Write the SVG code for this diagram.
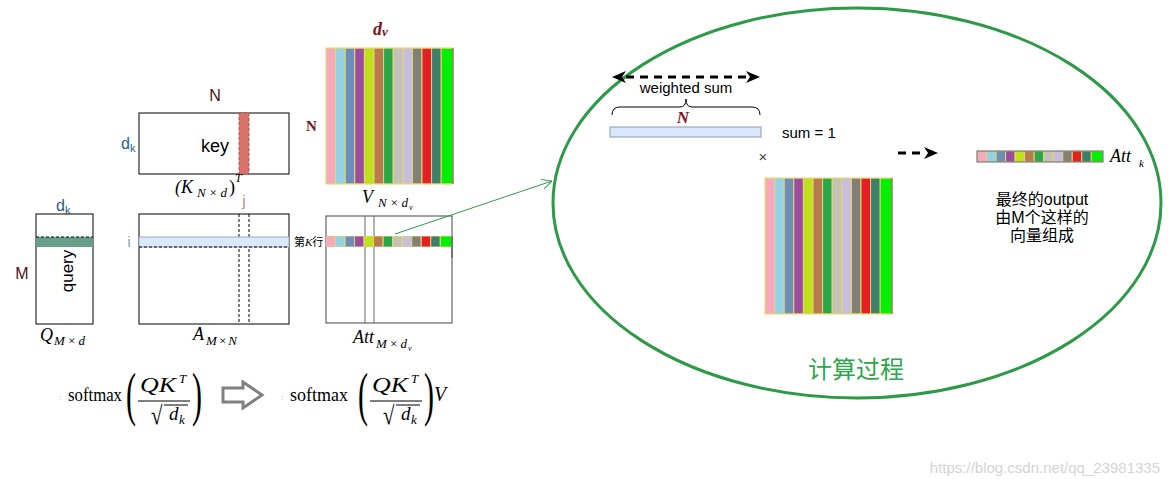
<svg xmlns="http://www.w3.org/2000/svg" xmlns:xlink="http://www.w3.org/1999/xlink" width="1168" height="479" viewBox="0 0 1168 479">
<style>
.sans{font-family:"Liberation Sans",Arial,sans-serif;}
.rm{font-family:"Liberation Serif","Times New Roman",serif;}
.mi{font-family:"Liberation Serif","Times New Roman",serif;font-style:italic;}
.bi{font-family:"Liberation Serif","Times New Roman",serif;font-style:italic;font-weight:bold;}
.cjk{font-family:"Liberation Sans","Noto Sans CJK SC",sans-serif;}
.box{fill:#fff;stroke:#000;stroke-width:1;}
.dash{stroke:#000;stroke-width:1;stroke-dasharray:3,2;fill:none;}
.red{fill:#4a1515;}
.blue{fill:#2a5d8f;}
.c{vector-effect:non-scaling-stroke;stroke:#e6d66a;stroke-width:1;}
</style>
<defs>
<symbol id="cols" viewBox="0 0 127 100" preserveAspectRatio="none">
<rect class="c" x="0" y="0" width="9.6" height="100" fill="#f6a8bc"/>
<rect class="c" x="9.6" y="0" width="9.6" height="100" fill="#93d2e6"/>
<rect class="c" x="19.2" y="0" width="9.6" height="100" fill="#6c8ebb"/>
<rect class="c" x="28.8" y="0" width="9.6" height="100" fill="#9c4c9e"/>
<rect class="c" x="38.4" y="0" width="9.6" height="100" fill="#bfe01c"/>
<rect class="c" x="48" y="0" width="9.6" height="100" fill="#b87a4e"/>
<rect class="c" x="57.6" y="0" width="9.6" height="100" fill="#28a84a"/>
<rect class="c" x="67.2" y="0" width="9.6" height="100" fill="#c2c2b8"/>
<rect class="c" x="76.8" y="0" width="9.6" height="100" fill="#c6bedf"/>
<rect class="c" x="86.4" y="0" width="9.6" height="100" fill="#808078"/>
<rect class="c" x="96" y="0" width="9.6" height="100" fill="#e41e22"/>
<rect class="c" x="105.6" y="0" width="9.6" height="100" fill="#3e7e6c"/>
<rect class="c" x="115.2" y="0" width="11.8" height="100" fill="#00f000"/>
</symbol>
<marker id="tri" viewBox="0 0 14 12" refX="0" refY="6" markerWidth="14" markerHeight="12" markerUnits="userSpaceOnUse" orient="auto-start-reverse">
<path d="M0,0 L14,6 L0,12 L4,6 z" fill="#000"/>
</marker>
<marker id="gopen" viewBox="0 0 10 10" refX="10" refY="5" markerWidth="10" markerHeight="10" markerUnits="userSpaceOnUse" orient="auto">
<path d="M0,0 L10,5 L0,10" fill="none" stroke="#2e9a48" stroke-width="1"/>
</marker>
<g id="frac">
<text class="rm" transform="translate(126,414) scale(0.5,1)" font-size="60">(</text>
<text class="mi" x="140" y="392" font-size="21" textLength="36" lengthAdjust="spacingAndGlyphs">QK</text>
<text class="mi" x="179" y="383" font-size="13">T</text>
<line x1="138" y1="401" x2="190" y2="401" stroke="#000" stroke-width="1"/>
<text class="rm" transform="translate(151,424) scale(0.8,1)" font-size="26">√</text>
<line x1="164" y1="405" x2="188" y2="405" stroke="#000" stroke-width="1"/>
<text class="mi" x="169" y="420" font-size="19">d</text>
<text class="mi" x="179" y="424" font-size="13">k</text>
<text class="rm" transform="translate(192,414) scale(0.5,1)" font-size="60">)</text>
</g>
</defs>
<rect width="1168" height="479" fill="#fff"/>

<!-- Key matrix -->
<g id="key">
<text class="sans red" x="215" y="101" font-size="16" text-anchor="middle">N</text>
<rect class="box" x="139" y="113" width="150" height="61"/>
<rect x="239" y="113" width="10" height="61" fill="#d9736a" stroke="#a85a55" stroke-width="1" stroke-dasharray="3,2"/>
<text class="sans" x="215" y="152" font-size="18" text-anchor="middle">key</text>
<text class="sans blue" x="121" y="149" font-size="16">d<tspan font-size="11" dy="3">k</tspan></text>
<text class="mi" x="175" y="193" font-size="18">(K</text>
<text class="mi" x="197" y="197" font-size="13" textLength="30" lengthAdjust="spacing">N×d</text>
<text class="rm" x="229" y="193" font-size="18">)</text>
<text class="mi" x="235" y="182" font-size="12">T</text>
</g>

<!-- Query matrix -->
<g id="query">
<text class="sans blue" x="56" y="211" font-size="16">d<tspan font-size="11" dy="3">k</tspan></text>
<text class="sans red" x="22" y="279" font-size="16" text-anchor="middle">M</text>
<rect class="box" x="36" y="214" width="57" height="110"/>
<rect x="36" y="237" width="57" height="10" fill="#67a08a"/>
<line class="dash" x1="36" y1="237" x2="93" y2="237"/>
<text class="sans" transform="translate(73,271) rotate(-90)" font-size="17" text-anchor="middle">query</text>
<text class="mi" x="40" y="341" font-size="18">Q</text>
<text class="mi" x="54" y="345" font-size="13" textLength="31" lengthAdjust="spacing">M×d</text>
</g>

<!-- A matrix -->
<g id="amatrix">
<text class="sans" x="244" y="206" font-size="14" fill="#c47878" text-anchor="middle">j</text>
<text class="sans" x="129" y="247" font-size="14" fill="#7aa0a0" text-anchor="middle">i</text>
<rect class="box" x="139" y="214" width="150" height="110"/>
<line class="dash" x1="239" y1="214" x2="239" y2="324"/>
<line class="dash" x1="249" y1="214" x2="249" y2="324"/>
<rect x="139" y="237" width="150" height="10" fill="#dae8fc" stroke="#9aaac4" stroke-width="1"/>
<line class="dash" x1="139" y1="247" x2="289" y2="247" stroke="#555"/>
<text class="mi" x="193" y="340" font-size="18">A</text>
<text class="mi" x="206" y="345" font-size="13" textLength="31" lengthAdjust="spacing">M×N</text>
</g>

<!-- V matrix -->
<g id="vmatrix">
<text class="bi" x="373" y="35" font-size="18" fill="#7a1020">d<tspan font-size="13" dy="1">v</tspan></text>
<text class="rm" x="306" y="131" font-size="15" font-weight="bold" fill="#7a1020">N</text>
<use xlink:href="#cols" x="326" y="48" width="127" height="136"/>
<rect x="326" y="48" width="127" height="136" fill="none" stroke="#e6d66a" stroke-width="1"/>
<line x1="453" y1="48" x2="453" y2="184" stroke="#555" stroke-width="1"/>
<text class="mi" x="362" y="203" font-size="18">V</text>
<text class="mi" x="378" y="207" font-size="13" textLength="30" lengthAdjust="spacing">N×d</text>
<text class="mi" x="409" y="210" font-size="8">v</text>
</g>

<!-- Att matrix -->
<g id="attmatrix">
<rect x="326" y="216" width="126" height="107" fill="#fff" stroke="#444" stroke-width="1"/>
<line x1="365" y1="216" x2="365" y2="323" stroke="#666" stroke-width="1"/>
<line x1="374" y1="216" x2="374" y2="323" stroke="#666" stroke-width="1"/>
<use xlink:href="#cols" x="326" y="236" width="126" height="11"/>
<line x1="452" y1="236" x2="452" y2="258" stroke="#444" stroke-width="1"/>
<text class="cjk" x="294" y="246" font-size="11">第<tspan class="mi">K</tspan>行</text>
<text class="mi" x="353" y="343" font-size="18">Att</text>
<text class="mi" x="376" y="348" font-size="13" textLength="31" lengthAdjust="spacing">M×d</text>
<text class="mi" x="408" y="351" font-size="8">v</text>
</g>

<!-- Formula 1 -->
<g id="formula1">
<text class="rm" x="59" y="400" font-size="9" fill="#aaa">:</text>
<text class="rm" x="68" y="401" font-size="18" textLength="54" lengthAdjust="spacingAndGlyphs">softmax</text>
<use xlink:href="#frac"/>
</g>

<!-- Hollow arrow -->
<g id="implies">
<polygon points="223,388 243,388 243,382 262,395 243,408 243,402 223,402" fill="#fff" stroke="#808080" stroke-width="3" stroke-linejoin="miter"/>
</g>

<!-- Formula 2 -->
<g id="formula2">
<text class="rm" x="281" y="400" font-size="9" fill="#aaa">:</text>
<text class="rm" x="290" y="401" font-size="18" textLength="58" lengthAdjust="spacingAndGlyphs">softmax</text>
<use xlink:href="#frac" transform="translate(232,0)"/>
<text class="mi" x="434" y="401" font-size="20">V</text>
</g>

<!-- Process ellipse -->
<g id="process">
<ellipse cx="857" cy="203" rx="304" ry="195" fill="none" stroke="#2e9a48" stroke-width="3"/>
<text class="cjk" x="856" y="378" font-size="24" fill="#2aa84a" text-anchor="middle">计算过程</text>
</g>

<g id="weights">
<text class="sans" x="686" y="93" font-size="15" text-anchor="middle">weighted sum</text>
<path d="M612,115 Q612,107 620,107 L680,107 Q686,107 686,99 Q686,107 692,107 L752,107 Q760,107 760,115" fill="none" stroke="#000" stroke-width="1"/>
<text class="bi" x="683" y="123" font-size="17" fill="#8a1020" text-anchor="middle">N</text>
<rect x="610" y="127" width="151" height="10" fill="#dae8fc" stroke="#8a9ab4" stroke-width="1"/>
<text class="sans" x="782" y="138" font-size="15">sum = 1</text>
<text class="sans" x="763" y="162" font-size="15" fill="#444" text-anchor="middle">×</text>
</g>

<g id="vcopy">
<use xlink:href="#cols" x="765" y="178" width="127" height="136"/>
<rect x="765" y="178" width="127" height="136" fill="none" stroke="#e6d66a" stroke-width="1"/>
<line x1="892" y1="178" x2="892" y2="314" stroke="#555" stroke-width="1"/>
</g>

<g id="attk">
<use xlink:href="#cols" x="977" y="151" width="126" height="11"/>
<rect x="977" y="151" width="126" height="11" fill="none" stroke="#666" stroke-width="1"/>
<text class="mi" x="1110" y="162" font-size="18">Att</text>
<text class="mi" x="1139" y="167" font-size="11">k</text>
<text class="cjk" x="1042" y="205" font-size="16" text-anchor="middle">最终的output</text>
<text class="cjk" x="1042" y="223" font-size="16" text-anchor="middle">由M个这样的</text>
<text class="cjk" x="1042" y="241" font-size="16" text-anchor="middle">向量组成</text>
</g>

<!-- Connectors -->
<g id="connectors">
<line x1="395" y1="234" x2="552" y2="181" stroke="#2e9a48" stroke-width="1" marker-end="url(#gopen)"/>
<line x1="626" y1="77" x2="746" y2="77" stroke="#000" stroke-width="3" stroke-dasharray="8,6" marker-start="url(#tri)" marker-end="url(#tri)"/>
<line x1="898" y1="153" x2="924" y2="153" stroke="#000" stroke-width="3" stroke-dasharray="8,6" marker-end="url(#tri)"/>
</g>

<text class="sans" x="1160" y="473" font-size="15" fill="#d4d4d4" text-anchor="end">https://blog.csdn.net/qq_23981335</text>
</svg>
